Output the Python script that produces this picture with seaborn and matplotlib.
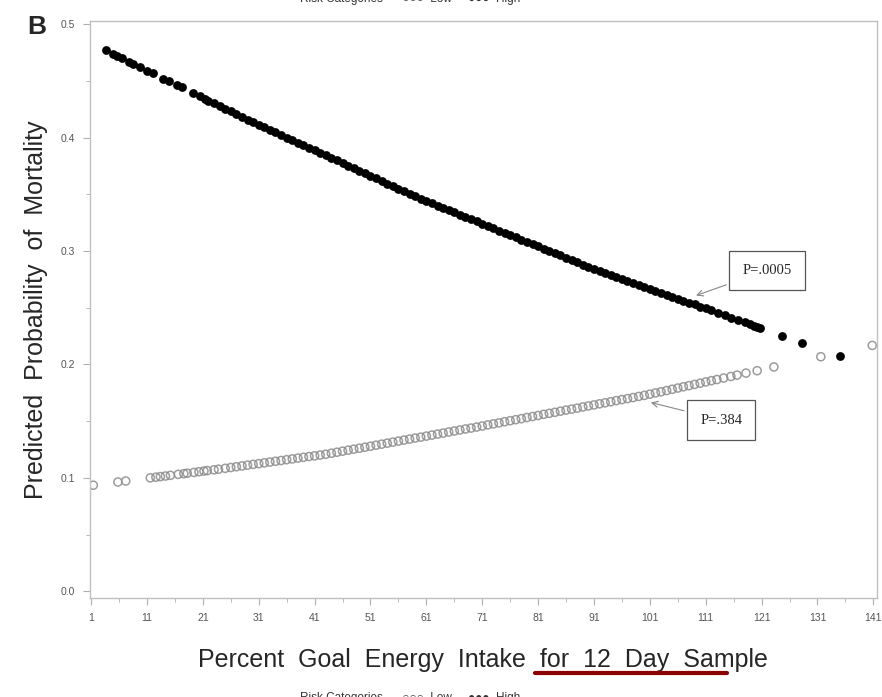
import numpy as np
import pandas as pd
import seaborn as sns
import matplotlib.pyplot as plt
from matplotlib.lines import Line2D
from matplotlib.ticker import MultipleLocator, FixedLocator

# Percent goal energy intake (x) and predicted probability (y)
high_x = [3.7, 5.0, 5.6, 6.5, 7.7, 8.5, 9.8, 11, 12, 13.9, 15, 16.3, 17.2, 19.3, 20.5, 21.4, 22,
          23, 24, 25, 26, 27, 28, 29, 30, 31, 32, 33, 34, 35, 36, 37, 38, 39, 40,
          41, 42, 43, 44, 45, 46, 47, 48, 49, 50, 51, 52, 53, 54, 55, 56, 57, 58, 59, 60,
          61, 62, 63, 64, 65, 66, 67, 68, 69, 70, 71, 72, 73, 74, 75, 76, 77, 78, 79, 80,
          81, 82, 83, 84, 85, 86, 87, 88, 89, 90, 91, 92, 93, 94, 95, 96, 97, 98, 99, 100,
          101, 102, 103, 104, 105, 106, 107, 108, 109, 110, 111, 112,
          113.2, 114.5, 115.6, 116.8, 118, 119, 119.6, 120.2, 120.8, 124.6, 128.2, 135]
high_y = [0.477, 0.474, 0.4722, 0.470, 0.4671, 0.4652, 0.4621, 0.4592, 0.4568, 0.4522, 0.4496,
          0.4465, 0.4443, 0.4393, 0.4364, 0.4342, 0.4328,
          0.4304, 0.428, 0.4256, 0.4232, 0.4208, 0.4184, 0.416, 0.4136,
          0.4114, 0.4091, 0.4069, 0.4046, 0.4024, 0.4001, 0.3979, 0.3956, 0.3934, 0.3911,
          0.3889, 0.3866, 0.3844, 0.3821, 0.3799, 0.3776, 0.3754, 0.3731, 0.3709, 0.3686,
          0.3664, 0.3641, 0.3619, 0.3596, 0.3574, 0.3551, 0.3529, 0.3506, 0.3484, 0.3461,
          0.3441, 0.3421, 0.3401, 0.3381, 0.3361, 0.3341, 0.3321, 0.3301, 0.3281, 0.3261,
          0.3241, 0.3221, 0.3201, 0.3181, 0.3161, 0.3141, 0.3121, 0.3101, 0.3081, 0.3061,
          0.3041, 0.3021, 0.3001, 0.2981, 0.2961, 0.2941, 0.2921, 0.2901, 0.2881, 0.2861,
          0.2844, 0.2826, 0.2809, 0.2791, 0.2774, 0.2756, 0.2739, 0.2721, 0.2704, 0.2686,
          0.2669, 0.2651, 0.2634, 0.2616, 0.2599, 0.2581, 0.2564, 0.2546, 0.2529, 0.2511,
          0.2494, 0.2476,
          0.2455, 0.2432, 0.2413, 0.2392, 0.2371, 0.2354, 0.2343, 0.2333, 0.2322, 0.2255,
          0.2192, 0.2074]

low_x = [1.4, 5.8, 7.2, 11.6, 12.6, 13.4, 14.3, 15.2, 16.6, 17.6, 18.2, 19.4, 20.3, 21.2, 21.8,
         23, 23.8, 25, 26, 27, 28, 29, 30, 31, 32, 33, 34, 35, 36, 37, 38, 39, 40,
         41, 42, 43, 44, 45, 46, 47, 48, 49, 50, 51, 52, 53, 54, 55, 56, 57, 58, 59, 60,
         61, 62, 63, 64, 65, 66, 67, 68, 69, 70, 71, 72, 73, 74, 75, 76, 77, 78, 79, 80,
         81, 82, 83, 84, 85, 86, 87, 88, 89, 90, 91, 92, 93, 94, 95, 96, 97, 98, 99, 100,
         101, 102, 103, 104, 105, 106, 107, 108, 109, 110, 111, 112,
         113, 114.2, 115.5, 116.6, 118.2, 120.2, 123.2, 131.6, 140.8]
low_y = [0.0935, 0.0963, 0.0972, 0.1, 0.1006, 0.1011, 0.1016, 0.1022, 0.1031, 0.1037, 0.1041,
         0.1048, 0.1054, 0.106, 0.1064, 0.1071, 0.1076,
         0.1084, 0.1091, 0.1098, 0.1105, 0.1112, 0.1119, 0.1125, 0.1132, 0.1139, 0.1146,
         0.1153, 0.116, 0.1167, 0.1174, 0.1181, 0.1188, 0.1194, 0.1201, 0.1208,
         0.1217, 0.1226, 0.1235, 0.1244, 0.1253, 0.1261, 0.127, 0.1279, 0.1288, 0.1297,
         0.1306, 0.1315, 0.1324, 0.1333, 0.1342, 0.1351, 0.1359, 0.1368, 0.1377, 0.1386,
         0.1395, 0.1404, 0.1413, 0.1422, 0.1431, 0.1439, 0.1448,
         0.1457, 0.1467, 0.1476, 0.1485, 0.1495, 0.1504, 0.1513, 0.1522, 0.1532, 0.1541,
         0.155, 0.156, 0.1569, 0.1578, 0.1588, 0.1597, 0.1606, 0.1615, 0.1625, 0.1634,
         0.1643, 0.1653, 0.1662, 0.1671, 0.1681, 0.169, 0.1699, 0.1708, 0.1718, 0.1727,
         0.1738, 0.1749, 0.1759, 0.177, 0.1781, 0.1792, 0.1803, 0.1813, 0.1824, 0.1835,
         0.1846, 0.1857,
         0.1867, 0.188, 0.1894, 0.1906, 0.1924, 0.1945, 0.1978, 0.2068, 0.2168]

x_ticks = [1, 11, 21, 31, 41, 51, 61, 71, 81, 91, 101, 111, 121, 131, 141]
y_ticks = [0.0, 0.1, 0.2, 0.3, 0.4, 0.5]

high = pd.DataFrame({"Energy": high_x, "Prob": high_y})
low = pd.DataFrame({"Energy": low_x, "Prob": low_y})

sns.set_theme(style="white")
plt.rcParams["font.family"] = ["Liberation Sans", "DejaVu Sans"]

fig = plt.figure(figsize=(8.82, 6.97), dpi=100)
ax = fig.add_axes([0.102, 0.142, 0.892, 0.828])

# Scatter of predicted probabilities for each risk category
sns.scatterplot(data=low, x="Energy", y="Prob", ax=ax, marker="o", s=34,
                facecolors="none", edgecolor="#8c8c8c", linewidth=1.1, alpha=0.85)
sns.scatterplot(data=high, x="Energy", y="Prob", ax=ax, marker="o", s=40,
                color="black", linewidth=0)

ax.set_xlim(0.8, 141.6)
ax.set_ylim(-0.006, 0.503)
ax.xaxis.set_major_locator(FixedLocator(x_ticks))
ax.xaxis.set_minor_locator(FixedLocator([t + 5 for t in x_ticks[:-1]]))
ax.yaxis.set_major_locator(FixedLocator(y_ticks))
ax.yaxis.set_minor_locator(MultipleLocator(0.05))
ax.set_xticklabels([str(t) for t in x_ticks])
ax.set_yticklabels([f"{t:.1f}" for t in y_ticks])
ax.tick_params(which="both", direction="out", color="#b0b0b0", labelcolor="#555555",
               labelsize=7.5, bottom=True, left=True)
ax.tick_params(which="major", length=5, width=0.8, pad=6)
ax.tick_params(which="minor", length=3, width=0.6)
for sp in ax.spines.values():
    sp.set_color("#c0c0c0")
    sp.set_linewidth(1.0)

ax.set_xlabel("Percent  Goal  Energy  Intake  for  12  Day  Sample", fontsize=18, labelpad=18)
ax.set_ylabel("Predicted  Probability  of  Mortality", fontsize=18, labelpad=9)

# p-value annotations
box = dict(boxstyle="square,pad=0.9", fc="white", ec="#555555", lw=0.9)
arrow = dict(arrowstyle="->", color="#888888", lw=0.8)
ax.annotate("P=.0005", xy=(108.8, 0.260), xytext=(122, 0.283), ha="center", va="center",
            fontsize=10.5, family="Liberation Serif", bbox=box, arrowprops=arrow)
ax.annotate("P=.384", xy=(100.7, 0.167), xytext=(113.8, 0.151), ha="center", va="center",
            fontsize=10.5, family="Liberation Serif", bbox=box, arrowprops=arrow)

# panel letter, cut-off legends and underline
legend_text = "Risk Categories      \u25cb\u25cb\u25cb  Low     \u25cf\u25cf\u25cf  High"
fig.text(0.34, 1.002, legend_text, fontsize=8.5, color="#333333", va="center",
         family=["Liberation Sans", "DejaVu Sans"])
fig.text(0.34, -0.002, legend_text, fontsize=8.5, color="#333333", va="center",
         family=["Liberation Sans", "DejaVu Sans"])
fig.text(0.031, 0.951, "B", fontsize=19, fontweight="bold")
fig.add_artist(Line2D([535 / 882, 727 / 882], [1 - 673 / 697, 1 - 673 / 697],
                      color="#8b0000", lw=3, transform=fig.transFigure))

fig.savefig("out.png", dpi=100)
